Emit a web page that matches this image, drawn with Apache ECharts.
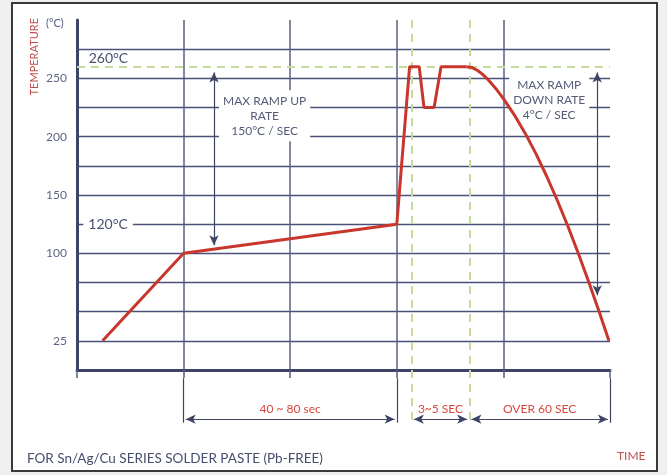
<!DOCTYPE html>
<html>
<head>
<meta charset="utf-8">
<script src="https://cdn.jsdelivr.net/npm/echarts@6/dist/echarts.min.js"></script>
<style>
  body { margin: 0; background: #eff0f2; }
  #main { width: 667px; height: 475px; }
</style>
</head>
<body>
<div id="main"></div>
<script>
// reflow profile (schematic time units 0..5, temperature in °C)
var profileTime = [0.24, 1.0, 3.0, 3.12, 3.21, 3.255, 3.35, 3.415, 3.655];
var profileTemp = [25, 100, 125, 260, 260, 225, 225, 260, 260];
var coolTime = [3.655, 3.705, 3.755, 3.805, 3.855, 3.93, 4.005, 4.105, 4.205, 4.305, 4.405, 4.505, 4.605, 4.705, 4.805, 4.9, 4.99];
var coolTemp = [260, 259.2, 256.9, 253.4, 249, 241.1, 232, 218.3, 202.8, 185.5, 166.3, 145.5, 123.2, 99.4, 74.4, 49.5, 25];
var shownTicks = [25, 100, 150, 200, 250];
var peakTemp = 260;
var soakTemp = 125;
var zoneEdges = [1, 3, 3.14, 3.68, 5];
var zoneLabels = ['40 ~ 80 sec', '3~5 SEC', 'OVER 60 SEC'];

var navy = '#3d4466';
var red = '#c8362c';
var green = '#c6dc9c';
var fontName = 'Lato, "Open Sans", sans-serif';

var pairs = function (xs, ys) {
    var out = [];
    for (var i = 0; i < xs.length; i++) out.push([xs[i], ys[i]]);
    return out;
};

var textPoint = function (x, y, txt, extra) {
    var lbl = {
        show: true,
        formatter: txt,
        color: '#555b78',
        fontFamily: fontName,
        fontSize: 12,
        lineHeight: 15,
        backgroundColor: '#fff',
        padding: [2, 4]
    };
    for (var k in extra) lbl[k] = extra[k];
    return { coord: [x, y], symbol: 'circle', symbolSize: 2, itemStyle: { color: 'rgba(0,0,0,0)' }, label: lbl };
};

// markers below the time axis
var zoneTicks = [];
[zoneEdges[0], zoneEdges[1], zoneEdges[4]].forEach(function (e) {
    zoneTicks.push([{ coord: [e, -7] }, { coord: [e, -45] }]);
});
var spans = [[zoneEdges[0], zoneEdges[1]], [zoneEdges[2], zoneEdges[3]], [zoneEdges[3], zoneEdges[4]]];
var zoneArrows = spans.map(function (s, i) {
    return [
        { coord: [s[0] + 0.02, -42], label: { show: true, formatter: zoneLabels[i], position: 'insideMiddleTop', color: '#d9463d', fontSize: 12, fontFamily: fontName, distance: 4 } },
        { coord: [s[1] - 0.02, -42] }
    ];
});

var myChart = echarts.init(document.getElementById('main'));
var option = {
    animation: false,
    textStyle: { fontFamily: fontName },
    graphic: [
        { type: 'rect', z: -10, shape: { x: 12, y: 3, width: 645, height: 468 }, style: { fill: '#fff', stroke: '#3a3a3a', lineWidth: 2 } },
        { type: 'text', left: 29, top: 18, rotation: Math.PI / 2, style: { text: 'TEMPERATURE', fill: '#c0504d', font: '11px ' + fontName } },
        { type: 'text', left: 46, top: 18, style: { text: '(°C)', fill: '#555b78', font: '11px ' + fontName } },
        { type: 'text', left: 27, top: 452, style: { text: 'FOR Sn/Ag/Cu SERIES SOLDER PASTE (Pb-FREE)', fill: '#474d6c', font: '13.5px ' + fontName } },
        { type: 'text', left: 617, top: 450, style: { text: 'TIME', fill: '#c0504d', font: '12px ' + fontName } }
    ],
    grid: [
        { left: 77, right: 57, top: 20, bottom: 105 },
        { left: 77, right: 57, top: 370, bottom: 23 }
    ],
    xAxis: [{
        type: 'value', min: 0, max: 5, interval: 1,
        axisLine: { show: true, lineStyle: { color: navy, width: 3 } },
        axisTick: { show: true, length: 8, lineStyle: { color: '#5a5f80', width: 1.5 } },
        axisLabel: { show: false },
        splitLine: { show: true, showMinLine: false, showMaxLine: false, lineStyle: { color: '#5a5f80', width: 1.5 } }
    }, {
        gridIndex: 1, type: 'value', min: 0, max: 5, show: false
    }],
    yAxis: [{
        type: 'value', min: 0, max: 300, interval: 25,
        axisLine: { show: true, lineStyle: { color: navy, width: 3 } },
        axisTick: { show: false },
        axisLabel: {
            color: '#5f6482', fontSize: 12, margin: 10,
            formatter: function (v) { return shownTicks.indexOf(v) >= 0 ? String(v) : ''; }
        },
        splitLine: { show: true, showMinLine: false, showMaxLine: false, lineStyle: { color: '#4a5078', width: 1.3 } }
    }, {
        gridIndex: 1, type: 'value', min: -70, max: 0, show: false
    }],
    series: [
        {
            type: 'line',
            data: pairs(profileTime, profileTemp),
            symbol: 'none',
            lineStyle: { color: red, width: 3 },
            z: 5,
            markLine: {
                silent: true, symbol: 'none', label: { show: false },
                lineStyle: { color: green, type: [8, 6], width: 2 },
                data: [
                    [{ coord: [0, peakTemp] }, { coord: [5, peakTemp] }],
                    [{ coord: [zoneEdges[2], 300] }, { coord: [zoneEdges[2], 0] }],
                    [{ coord: [zoneEdges[3], 300] }, { coord: [zoneEdges[3], 0] }]
                ]
            },
            markPoint: {
                silent: true,
                data: [
                    textPoint(0.1, 267, '260°C', { position: 'right', distance: 0, fontSize: 14, color: '#4a506e', backgroundColor: 'transparent', padding: 0 }),
                    textPoint(0.05, soakTemp, '120°C', { position: 'right', distance: 0, fontSize: 14, color: '#4a506e', padding: [0, 5] }),
                    textPoint(1.76, 218, 'MAX RAMP UP\nRATE\n150°C / SEC', { position: 'inside', padding: [3, 4] }),
                    textPoint(4.43, 231, 'MAX RAMP\nDOWN RATE\n4°C / SEC', { position: 'inside', padding: [2, 4] })
                ]
            }
        },
        {
            type: 'line',
            data: pairs(coolTime, coolTemp),
            symbol: 'none',
            lineStyle: { color: red, width: 3, join: 'round' },
            z: 5,
            markLine: {
                silent: true,
                symbol: ['arrow', 'arrow'], symbolSize: [7, 10],
                lineStyle: { color: navy, type: 'solid', width: 1.2 },
                label: { show: false },
                data: [
                    [{ coord: [1.285, 255] }, { coord: [1.285, 107] }],
                    [{ coord: [4.88, 255] }, { coord: [4.88, 64] }]
                ]
            }
        },
        {
            type: 'line',
            xAxisIndex: 1, yAxisIndex: 1,
            data: [],
            markLine: {
                silent: true, symbol: 'none', label: { show: false },
                lineStyle: { color: navy, type: 'solid', width: 1.2 },
                data: zoneTicks
            }
        },
        {
            type: 'line',
            xAxisIndex: 1, yAxisIndex: 1,
            data: [],
            markLine: {
                silent: true, symbol: 'none', label: { show: false },
                lineStyle: { color: green, type: [8, 6], width: 2 },
                data: [
                    [{ coord: [zoneEdges[2], 0] }, { coord: [zoneEdges[2], -47] }],
                    [{ coord: [zoneEdges[3], 0] }, { coord: [zoneEdges[3], -47] }]
                ]
            }
        },
        {
            type: 'line',
            xAxisIndex: 1, yAxisIndex: 1,
            data: [],
            markLine: {
                silent: true,
                symbol: ['arrow', 'arrow'], symbolSize: [7, 10],
                lineStyle: { color: navy, type: 'solid', width: 1.2 },
                data: zoneArrows
            }
        }
    ]
};
myChart.setOption(option);
</script>
</body>
</html>
